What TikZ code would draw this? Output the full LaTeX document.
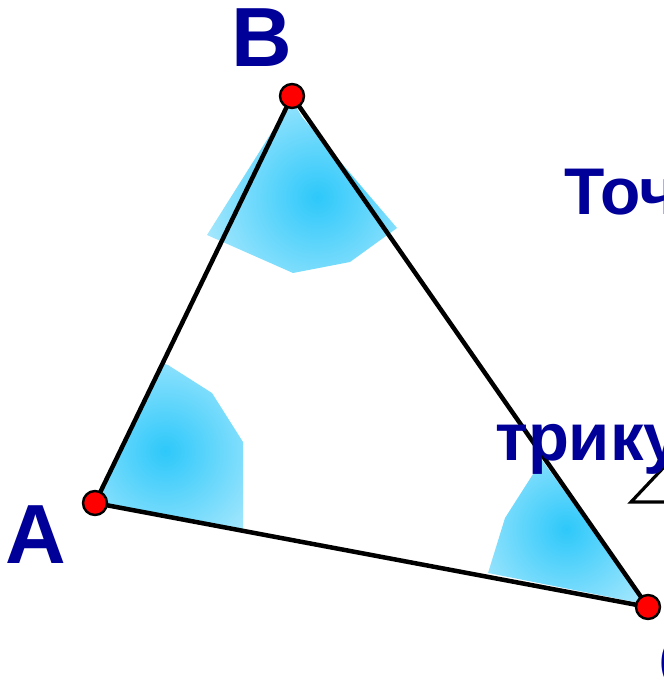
\documentclass[tikz,border=0pt]{standalone}
\usepackage{fontspec}
\setmainfont{Liberation Sans}
\definecolor{labblue}{RGB}{0,0,153}
\definecolor{patchblue}{RGB}{45,200,250}
\tikzset{
  side/.style={line width=4.5pt, black, line cap=round},
  vertexdot/.style={circle, fill=red, draw=black, line width=2.4pt, minimum size=24pt, inner sep=0pt},
  biglabel/.style={text=labblue, font=\fontsize{84}{84}\selectfont\bfseries, inner sep=0pt, anchor=base west},
  textlabel/.style={text=labblue, font=\fontsize{67}{67}\selectfont\bfseries, inner sep=0pt, anchor=base west},
}
\begin{document}
\begin{tikzpicture}[x=1pt,y=-1pt]
\useasboundingbox (0,0) rectangle (663,692);
% angle patches
\begin{scope}
  \clip (292,100) -- (302,117) -- (397,228) -- (350,262) -- (293,273) -- (207,235) -- cycle;
  \shade[inner color=patchblue, outer color=white] (317,197) circle (205pt);
\end{scope}
\begin{scope}
  \clip (97,503) -- (162,363) -- (168,365) -- (212,393) -- (243,442) -- (243,532) -- cycle;
  \shade[inner color=patchblue, outer color=white] (165,451) circle (195pt);
\end{scope}
\begin{scope}
  \clip (542,460) -- (505,518) -- (488,573) -- (640,603) -- (646,605) -- cycle;
  \shade[inner color=patchblue, outer color=white] (566,529) circle (180pt);
\end{scope}
% vertices
\coordinate (pA) at (95,503);
\coordinate (pB) at (292,96);
\coordinate (pC) at (648,607);
\draw[side] (pA) -- (pB) -- (pC) -- cycle;
\node[vertexdot] (dA) at (pA) {};
\node[vertexdot] (dB) at (pB) {};
\node[vertexdot] (dC) at (pC) {};
% partial triangle sign
\coordinate (t1) at (665,466);
\coordinate (t2) at (631,502);
\coordinate (t3) at (665,502);
\draw[line width=3.2pt, miter limit=10] (t1) -- (t2) -- (t3);
% labels
\node[biglabel] (lA) at (5,563) {A};
\node[biglabel] (lB) at (231,67) {B};
\node[biglabel] (lC) at (658,692) {C};
\node[textlabel, font=\fontsize{66}{66}\selectfont\bfseries] (t1txt) at (564,215) {Точ};
\node[textlabel] (t2txt) at (495,460) {трику};
\end{tikzpicture}
\end{document}
